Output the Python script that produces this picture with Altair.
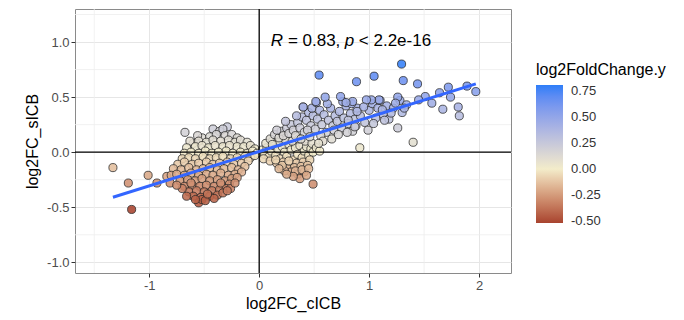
import altair as alt
import pandas as pd

# (log2FC_cICB, log2FC_sICB) pairs
left_outliers = [(-1.33, -0.14), (-1.19, -0.28), (-1.16, -0.52), (-1.01, -0.21),
                 (-0.93, -0.28), (-0.675, 0.18), (-0.84, -0.22), (-0.81, -0.28)]

left_cluster = [
    (-0.42, 0.21), (-0.29, 0.23), (-0.36, 0.19), (-0.33, 0.21),
    (-0.52, 0.13), (-0.45, 0.14), (-0.39, 0.16), (-0.31, 0.15), (-0.25, 0.16), (-0.20, 0.13), (-0.56, 0.15),
    (-0.60, 0.08), (-0.55, 0.10), (-0.48, 0.09), (-0.42, 0.11), (-0.35, 0.10), (-0.28, 0.11),
    (-0.22, 0.09), (-0.17, 0.11), (-0.11, 0.09), (-0.63, 0.10),
    (-0.66, 0.04), (-0.58, 0.05), (-0.52, 0.06), (-0.46, 0.04), (-0.40, 0.06), (-0.33, 0.05),
    (-0.27, 0.06), (-0.20, 0.05), (-0.14, 0.05), (-0.08, 0.06), (-0.04, 0.03),
    (-0.68, -0.01), (-0.62, 0.00), (-0.55, -0.01), (-0.49, 0.01), (-0.43, -0.01), (-0.37, 0.00),
    (-0.30, 0.01), (-0.24, -0.01), (-0.17, 0.00), (-0.11, -0.01), (-0.06, 0.01), (-0.02, -0.01),
    (-0.70, -0.06), (-0.64, -0.05), (-0.58, -0.06), (-0.51, -0.04), (-0.45, -0.06), (-0.39, -0.05),
    (-0.33, -0.04), (-0.26, -0.06), (-0.20, -0.05), (-0.13, -0.04), (-0.08, -0.05), (-0.04, -0.03),
    (-0.74, -0.11), (-0.68, -0.09), (-0.61, -0.11), (-0.55, -0.10), (-0.48, -0.09), (-0.42, -0.11),
    (-0.36, -0.10), (-0.29, -0.09), (-0.23, -0.11), (-0.16, -0.10), (-0.10, -0.08),
    (-0.78, -0.15), (-0.71, -0.16), (-0.64, -0.14), (-0.57, -0.16), (-0.51, -0.15), (-0.45, -0.14),
    (-0.38, -0.16), (-0.32, -0.15), (-0.25, -0.14), (-0.19, -0.16), (-0.13, -0.13),
    (-0.80, -0.21), (-0.75, -0.20), (-0.68, -0.21), (-0.62, -0.19), (-0.55, -0.21), (-0.48, -0.20),
    (-0.42, -0.21), (-0.35, -0.19), (-0.28, -0.21), (-0.22, -0.20), (-0.16, -0.18),
    (-0.72, -0.26), (-0.65, -0.25), (-0.58, -0.26), (-0.52, -0.24), (-0.45, -0.26), (-0.38, -0.25),
    (-0.31, -0.26), (-0.25, -0.24), (-0.20, -0.23),
    (-0.68, -0.31), (-0.61, -0.30), (-0.54, -0.31), (-0.48, -0.30), (-0.41, -0.31), (-0.34, -0.30),
    (-0.27, -0.29),
    (-0.64, -0.36), (-0.57, -0.35), (-0.50, -0.36), (-0.43, -0.35), (-0.36, -0.34), (-0.30, -0.33),
    (-0.60, -0.40), (-0.53, -0.41), (-0.45, -0.40), (-0.38, -0.39),
    (-0.55, -0.46), (-0.52, -0.43),
    (-0.70, -0.33), (-0.66, -0.40), (-0.58, -0.43), (-0.49, -0.44), (-0.41, -0.42), (-0.33, -0.37),
    (-0.26, -0.33), (-0.22, -0.28), (-0.47, -0.38), (-0.62, -0.28), (-0.75, -0.30), (-0.35, -0.28),
    (-0.29, -0.35),
]

right_core = [
    (0.03, 0.02), (0.05, -0.02), (0.07, 0.04), (0.09, -0.04), (0.11, 0.01), (0.13, 0.06),
    (0.15, -0.03), (0.17, 0.03), (0.19, -0.06), (0.21, 0.05), (0.23, 0.00), (0.25, -0.04),
    (0.27, 0.07), (0.29, 0.02), (0.31, -0.07), (0.33, 0.04), (0.35, -0.02), (0.37, 0.06),
    (0.39, -0.05), (0.41, 0.01), (0.43, 0.05), (0.45, -0.03), (0.47, 0.03), (0.49, 0.00),
    (0.06, 0.08), (0.12, 0.10), (0.18, 0.09), (0.24, 0.11), (0.30, 0.10), (0.36, 0.12),
    (0.42, 0.10), (0.48, 0.08), (0.04, -0.06), (0.10, -0.08), (0.16, -0.10), (0.22, -0.09),
    (0.28, -0.11), (0.34, -0.10), (0.40, -0.09), (0.46, -0.07), (0.52, 0.04), (0.55, 0.01),
    (0.20, -0.14), (0.26, -0.15), (0.32, -0.14), (0.38, -0.13), (0.44, -0.12), (0.29, -0.18),
    (0.35, -0.20), (0.41, -0.18), (0.37, -0.24), (0.23, -0.17),
    (0.15, -0.07), (0.21, -0.12), (0.27, -0.08), (0.33, -0.17), (0.39, -0.16), (0.45, -0.15),
    (0.31, -0.22), (0.25, -0.20), (0.43, -0.21), (0.18, -0.15),
]

right_band = [
    (0.10, 0.12), (0.14, 0.16), (0.18, 0.13), (0.20, 0.19), (0.22, 0.15), (0.25, 0.22),
    (0.27, 0.17), (0.29, 0.25), (0.31, 0.20), (0.16, 0.20), (0.24, 0.28), (0.12, 0.07),
    (0.33, 0.15), (0.35, 0.27), (0.37, 0.22), (0.39, 0.32), (0.41, 0.18), (0.43, 0.29),
    (0.45, 0.36), (0.47, 0.24), (0.49, 0.33), (0.34, 0.33), (0.40, 0.41), (0.44, 0.20),
    (0.48, 0.40), (0.38, 0.12), (0.46, 0.14),
    (0.51, 0.21), (0.53, 0.30), (0.55, 0.38), (0.57, 0.25), (0.59, 0.34), (0.61, 0.18),
    (0.63, 0.29), (0.65, 0.40), (0.67, 0.24), (0.69, 0.33), (0.52, 0.45), (0.56, 0.15),
    (0.62, 0.44), (0.66, 0.12), (0.58, 0.10), (0.68, 0.20), (0.54, 0.08),
    (0.71, 0.28), (0.73, 0.37), (0.75, 0.22), (0.77, 0.31), (0.79, 0.42), (0.81, 0.26),
    (0.83, 0.35), (0.85, 0.19), (0.87, 0.30), (0.89, 0.40), (0.72, 0.16), (0.76, 0.46),
    (0.80, 0.18), (0.84, 0.44), (0.88, 0.24),
    (0.92, 0.33), (0.96, 0.27), (1.00, 0.38), (1.03, 0.44), (1.06, 0.31), (1.08, 0.40),
    (1.10, 0.47), (1.13, 0.34), (1.16, 0.42), (1.18, 0.30), (1.22, 0.40), (1.28, 0.47),
    (1.30, 0.36), (1.34, 0.43),
]

right_sparse = [
    (0.545, 0.70), (1.295, 0.80), (0.885, 0.64), (1.045, 0.69), (1.31, 0.65), (1.44, 0.62),
    (1.40, 0.09), (0.915, 0.04), (0.49, -0.29), (1.97, 0.55), (1.89, 0.60), (1.72, 0.59),
    (1.64, 0.54), (1.74, 0.50), (1.67, 0.39), (1.81, 0.41), (1.82, 0.33), (1.57, 0.445),
    (1.51, 0.505), (1.45, 0.475), (1.32, 0.40), (1.26, 0.50), (1.24, 0.445), (1.26, 0.22),
    (1.20, 0.355), (1.14, 0.29), (1.12, 0.385), (1.09, 0.475), (1.02, 0.475), (0.975, 0.475),
    (0.95, 0.41), (1.04, 0.26), (0.99, 0.20), (0.89, 0.37), (0.85, 0.46), (0.74, 0.505),
    (0.60, 0.50), (0.515, 0.46), (0.40, 0.41), (0.79, 0.45), (0.87, 0.23), (0.81, 0.29),
]

x_major = [-1, 0, 1, 2]
x_minor = [-1.5, -0.5, 0.5, 1.5]
y_major = [-1.0, -0.5, 0.0, 0.5, 1.0]
y_minor = [-0.75, -0.25, 0.25, 0.75, 1.25]
legend_values = [-0.5, -0.25, 0.0, 0.25, 0.5, 0.75]
color_stops = [-0.52, 0.0, 0.81]
color_range = ["#a8432f", "#f3ecca", "#2c7ef8"]

label_parts = ["R", "= 0.83,", "p", "< 2.2e-16"]
label_styles = ["italic", "normal", "italic", "normal"]
label_x = [0.106, 0.261, 0.779, 0.906]
label_y = [0.964, 0.964, 0.964, 0.964]

pts = left_outliers + left_cluster + right_core + right_band + right_sparse
df = pd.DataFrame({
    "cicb": [p[0] for p in pts],
    "sicb": [p[1] for p in pts],
})
df["fc"] = df["sicb"]

xs = alt.Scale(domain=[-1.675, 2.29], nice=False, zero=False)
ys = alt.Scale(domain=[-1.097, 1.30], nice=False, zero=False)

FONT = "Liberation Sans"
MINUS_FIX = "replace(datum.label, '\u2212', '-')"

xaxis = alt.Axis(values=x_major, grid=True, format="d", labelExpr=MINUS_FIX)
yaxis = alt.Axis(values=y_major, grid=True, format=".1f", labelExpr=MINUS_FIX)
XT = "log2FC_cICB"
YT = "log2FC_sICB"

minor_x = alt.Chart(pd.DataFrame({"v": x_minor})).mark_rule(
    color="#ededed", strokeWidth=0.8
).encode(x=alt.X("v:Q", scale=xs, axis=xaxis, title=XT))

minor_y = alt.Chart(pd.DataFrame({"v": y_minor})).mark_rule(
    color="#ededed", strokeWidth=0.8
).encode(y=alt.Y("v:Q", scale=ys, axis=yaxis, title=YT))

points = alt.Chart(df).mark_circle(
    size=66, opacity=1, fillOpacity=0.88, stroke="#262626", strokeWidth=0.9, strokeOpacity=0.85
).encode(
    x=alt.X("cicb:Q", scale=xs, axis=xaxis, title=XT),
    y=alt.Y("sicb:Q", scale=ys, axis=yaxis, title=YT),
    color=alt.Color(
        "fc:Q",
        scale=alt.Scale(domain=color_stops, range=color_range, interpolate="lab"),
        legend=alt.Legend(
            title="log2FoldChange.y", orient="none", legendX=461, legendY=53,
            values=legend_values, format=".2f", labelExpr=MINUS_FIX, gradientLength=138,
            gradientThickness=27, titleFontSize=16, titleFont=FONT,
            titleFontWeight="normal", titleColor="#000000", titlePadding=7,
            labelFontSize=13, labelFont=FONT, labelColor="#333333", labelOffset=8,
            gradientStrokeWidth=0, direction="vertical",
        ),
    ),
)

zero_v = alt.Chart(pd.DataFrame({"v": [0]})).mark_rule(color="black", strokeWidth=1.3).encode(
    x=alt.X("v:Q", scale=xs, axis=xaxis, title=XT))
zero_h = alt.Chart(pd.DataFrame({"v": [0]})).mark_rule(color="black", strokeWidth=1.3).encode(
    y=alt.Y("v:Q", scale=ys, axis=yaxis, title=YT))

fit = alt.Chart(df).transform_regression(
    "cicb", "sicb"
).mark_line(color="#3366FF", strokeWidth=3).encode(
    x=alt.X("cicb:Q", scale=xs, axis=xaxis, title=XT),
    y=alt.Y("sicb:Q", scale=ys, axis=yaxis, title=YT),
)

label_df = pd.DataFrame({"t": label_parts, "s": label_styles, "x": label_x, "y": label_y})
labels = []
for style in ["italic", "normal"]:
    labels.append(
        alt.Chart(label_df).transform_filter(alt.datum.s == style).mark_text(
            align="left", baseline="alphabetic", fontSize=17, font=FONT,
            fontStyle=style, color="#000000"
        ).encode(
            x=alt.X("x:Q", scale=xs, axis=xaxis, title=XT),
            y=alt.Y("y:Q", scale=ys, axis=yaxis, title=YT),
            text="t:N",
        )
    )

chart = alt.layer(minor_x, minor_y, points, zero_v, zero_h, fit, *labels).properties(
    width=436, height=264,
    background="white",
    autosize=alt.AutoSizeParams(type="none"),
    padding={"left": 67, "top": 1, "right": 165, "bottom": 40},
).configure_view(
    stroke="#8a8a8a", strokeWidth=1
).configure_axis(
    domain=False, gridColor="#e6e6e6", gridWidth=1,
    tickColor="#333333", tickSize=4, tickWidth=1,
    labelFont=FONT, labelFontSize=13, labelColor="#4d4d4d", labelPadding=2,
    titleFont=FONT, titleFontSize=16, titleFontWeight="normal", titleColor="#000000",
).configure_axisX(
    titlePadding=3
).configure_axisY(
    titlePadding=6
)

chart.save("out.html", embed_options={"renderer": "svg", "actions": False})
